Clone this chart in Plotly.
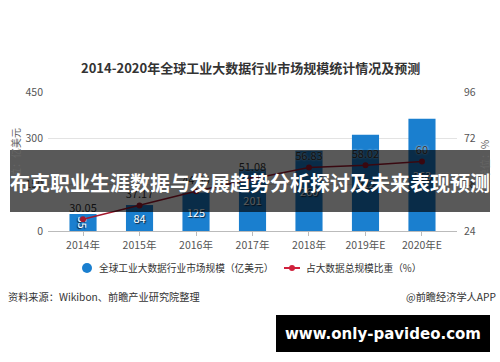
import plotly.graph_objects as go

categories = ["2014年", "2015年", "2016年", "2017年", "2018年", "2019年E", "2020年E"]
market_size = [55, 84, 125, 201, 260, 312, 363]
share_pct = [30.05, 37.17, 44.60, 51.08, 56.83, 58.02, 60]
share_labels = ["30.05", "37.17", "44.60", "51.08", "56.83", "58.02", "60"]
left_ticks = [0, 150, 300, 450]
right_ticks = [24, 48, 72, 96]
legend_names = ["全球工业大数据行业市场规模（亿美元）", "占大数据总规模比重（%）"]

CJK = "Noto Sans CJK SC"
BLUE = "#1a7fcf"
RED = "#a3192e"
LEG_RED = "#d0203c"

# plot area in pixels
L, R, T, B = 48, 457, 92, 231
W, H = 500, 362


def px(x):
    return (x - L) / (R - L)


def py(y):
    return (B - y) / (B - T)


fig = go.Figure()

fig.add_trace(go.Bar(
    x=categories, y=market_size, width=0.48, name=legend_names[0],
    marker=dict(color=BLUE, line=dict(width=0)),
    text=[str(v) for v in market_size], textposition="inside",
    insidetextanchor="middle", constraintext="none",
    textfont=dict(family=CJK, size=11, color="white", shadow="1px 1px 1px #102030"),
    showlegend=False, cliponaxis=False, yaxis="y",
))

fig.add_trace(go.Scatter(
    x=categories, y=share_pct, mode="lines+markers+text", yaxis="y2", name=legend_names[1],
    line=dict(color=RED, width=1.5), marker=dict(color=RED, size=6),
    text=share_labels, textposition="top center",
    textfont=dict(family=CJK, size=11, color="#333333", shadow="0px 0px 2px #ffffff"),
    showlegend=False, cliponaxis=False,
))

shapes = [
    # manual legend symbols
    dict(type="circle", xref="paper", yref="paper",
         x0=px(82), x1=px(92), y0=py(273), y1=py(263),
         fillcolor=BLUE, line=dict(width=0)),
    dict(type="line", xref="paper", yref="paper",
         x0=px(284), x1=px(300), y0=py(268), y1=py(268),
         line=dict(color=LEG_RED, width=2)),
    dict(type="circle", xref="paper", yref="paper",
         x0=px(289), x1=px(295), y0=py(271), y1=py(265),
         fillcolor=LEG_RED, line=dict(width=0)),
    # overlays
    dict(type="rect", xref="paper", yref="paper",
         x0=px(10), x1=px(490), y0=py(212), y1=py(150),
         fillcolor="rgba(0,0,0,0.65)", line=dict(width=0), layer="above"),
    dict(type="rect", xref="paper", yref="paper",
         x0=px(276), x1=px(490), y0=py(352), y1=py(315),
         fillcolor="#000000", line=dict(width=0), layer="above"),
]

annotations = [
    dict(text="<b>2014-2020年全球工业大数据行业市场规模统计情况及预测</b>",
         xref="paper", yref="paper", x=px(250), y=py(67), xanchor="center", yanchor="middle",
         showarrow=False, font=dict(family=CJK, size=13, color="#333333")),
    dict(text="单位：亿美元", xref="paper", yref="paper", x=px(15), y=py(158),
         xanchor="center", yanchor="middle", textangle=-90, showarrow=False,
         font=dict(family=CJK, size=10, color="#666666")),
    dict(text="单位：%", xref="paper", yref="paper", x=px(484), y=py(160),
         xanchor="center", yanchor="middle", textangle=-90, showarrow=False,
         font=dict(family=CJK, size=10, color="#666666")),
    dict(text=legend_names[0], xref="paper", yref="paper", x=px(97), y=py(268),
         xanchor="left", yanchor="middle", showarrow=False,
         font=dict(family=CJK, size=9.7, color="#333333")),
    dict(text=legend_names[1], xref="paper", yref="paper", x=px(304), y=py(268),
         xanchor="left", yanchor="middle", showarrow=False,
         font=dict(family=CJK, size=9.7, color="#333333")),
    dict(text="资料来源：Wikibon、前瞻产业研究院整理", xref="paper", yref="paper",
         x=px(6), y=py(296), xanchor="left", yanchor="middle", showarrow=False,
         font=dict(family=CJK, size=10.2, color="#333333")),
    dict(text="@前瞻经济学人APP", xref="paper", yref="paper",
         x=px(498), y=py(296), xanchor="right", yanchor="middle", showarrow=False,
         font=dict(family=CJK, size=10.2, color="#333333")),
    dict(text="<b>布克职业生涯数据与发展趋势分析探讨及未来表现预测</b>", xref="paper", yref="paper",
         x=px(250), y=py(182), xanchor="center", yanchor="middle", showarrow=False,
         font=dict(family=CJK, size=20, color="#ffffff")),
    dict(text="<b>www.only-pavideo.com</b>", xref="paper", yref="paper",
         x=px(383), y=py(333.5), xanchor="center", yanchor="middle", showarrow=False,
         font=dict(family="DejaVu Sans", size=15, color="#ffffff")),
]

fig.update_layout(
    width=W, height=H, autosize=False,
    margin=dict(l=L, r=W - R, t=T, b=H - B, pad=0),
    paper_bgcolor="white", plot_bgcolor="white",
    font=dict(family=CJK, size=10, color="#555555"),
    showlegend=False,
    xaxis=dict(type="category", range=[-0.62, 6.62], showgrid=False,
               showline=True, linecolor="#bbbbbb", linewidth=1,
               ticks="outside", ticklen=4, tickcolor="#bbbbbb",
               tickfont=dict(family=CJK, size=10.5, color="#555555"), fixedrange=True),
    yaxis=dict(range=[0, 450], tickvals=left_ticks, showgrid=True, gridcolor="#e3e3e3",
               gridwidth=1, zeroline=False, showline=False, ticks="", ticklabelstandoff=4,
               tickfont=dict(family=CJK, size=10.5, color="#555555")),
    yaxis2=dict(range=[24, 96], tickvals=right_ticks, overlaying="y", side="right",
                showgrid=False, zeroline=False, showline=False, ticks="", ticklabelstandoff=6,
                tickfont=dict(family=CJK, size=10.5, color="#555555")),
    shapes=shapes,
    annotations=annotations,
)

fig.write_html("out.html")
